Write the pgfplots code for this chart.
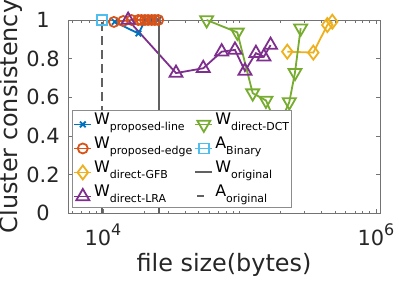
\documentclass[border=0pt]{standalone}
\usepackage{fontspec}
\setmainfont{DejaVu Sans}
\usepackage{pgfplots}
\pgfplotsset{compat=1.18}
\definecolor{mblue}{rgb}{0,0.447,0.741}
\definecolor{morange}{rgb}{0.85,0.325,0.098}
\definecolor{myellow}{rgb}{0.929,0.694,0.125}
\definecolor{mpurple}{rgb}{0.494,0.184,0.556}
\definecolor{mgreen}{rgb}{0.466,0.674,0.188}
\definecolor{mcyan}{rgb}{0.301,0.745,0.933}
\pgfplotsset{shortdash legend/.style={legend image code/.code={\draw[##1,solid] (0.06cm,0cm) -- (0.3cm,0cm);}}}
\newcommand{\lgt}[2]{{\fontsize{16}{16}\selectfont #1}\raisebox{-5.7bp}{\fontsize{11}{12}\selectfont #2}}
\newcommand{\tpow}[1]{10\raisebox{10bp}{\fontsize{16}{16}\selectfont #1}}
\begin{document}
\begin{tikzpicture}
\begin{axis}[
  xmode=log, scale only axis, width=312bp, height=193bp,
  xmin=5550, xmax=1.07e6, ymin=0, ymax=1,
  axis line style={black!55, line width=0.6bp},
  tick style={black!55, line width=0.6bp},
  major tick length=4bp, minor tick length=2.5bp,
  tick align=inside,
  xtick={1e4,1e6}, xticklabels={\tpow{4},\tpow{6}},
  minor xtick={6000,7000,8000,9000,20000,30000,40000,50000,60000,70000,80000,90000,1e5,2e5,3e5,4e5,5e5,6e5,7e5,8e5,9e5},
  ytick={0,0.2,0.4,0.6,0.8,1}, yticklabels={0,0.2,0.4,0.6,0.8,1},
  xticklabel style={font=\fontsize{21}{21}\selectfont, text=black!85, anchor=base, yshift=-32bp},
  yticklabel style={font=\fontsize{21}{21}\selectfont, text=black!85, anchor=center, xshift=-25bp},
  xlabel={file size(bytes)}, ylabel={Cluster consistency},
  x label style={font=\fontsize{24}{24}\selectfont, text=black!85, at={(axis description cs:0.5,-0.304)}, anchor=base},
  y label style={font=\fontsize{24}{24}\selectfont, text=black!85, at={(axis description cs:-0.183,0.5)}, anchor=center},
  legend columns=4, transpose legend,
  legend cell align=left,
  legend style={at={(axis description cs:0.0119,0.535)}, anchor=north west,
    draw=black!45, fill=white, inner xsep=1.5bp, inner ysep=1bp,
    row sep=1bp, column sep=1bp,
    nodes={inner xsep=1bp, inner ysep=1bp, text height=12.5bp, text depth=8.5bp, anchor=base west}},
  every axis plot/.append style={line width=1.8bp},
]
% W proposed-line
\addplot[mblue, mark=x, mark size=4bp] coordinates {
 (12200,0.99) (18200,0.93) (20500,1.0) (23000,1.0) (25400,1.0)};
\addlegendentry{\lgt{W}{proposed-line}}
% W proposed-edge
\addplot[morange, mark=o, mark size=5bp] coordinates {
 (12040,0.99) (14090,0.995) (16220,1.0) (18150,1.0) (19150,1.0) (20300,1.0) (21460,1.0) (22760,1.0) (24020,1.0) (25420,1.0)};
\addlegendentry{\lgt{W}{proposed-edge}}
% W direct-GFB
\addplot[myellow, mark=diamond, mark size=7bp] coordinates {
 (224000,0.836) (347500,0.831) (440000,0.974) (478600,0.991)};
\addlegendentry{\lgt{W}{direct-GFB}}
% W direct-LRA
\addplot[mpurple, mark=triangle, mark size=7.5bp] coordinates {
 (15300,1.0) (34300,0.725) (54300,0.75) (74100,0.836) (92700,0.845) (109700,0.736) (132000,0.828) (151000,0.81) (169000,0.87)};
\addlegendentry{\lgt{W}{direct-LRA}}
% W direct-DCT
\addplot[mgreen, mark=triangle, mark size=7.5bp, mark options={rotate=180}] coordinates {
 (57500,1.0) (96400,0.936) (125000,0.621) (156400,0.583) (191000,0.44) (231800,0.575) (255000,0.727) (280700,0.957)};
\addlegendentry{\lgt{W}{direct-DCT}}
% A Binary
\addplot[mcyan, mark=square, mark size=5bp] coordinates {(9800,1.0)};
\addlegendentry{\lgt{A}{Binary}}
% W original
\addplot[black!62, line width=2bp] coordinates {(25800,0) (25800,1)};
\addlegendentry{\lgt{W}{original}}
% A original
\addplot[black!62, line width=2bp, dash pattern=on 9bp off 5bp, shortdash legend] coordinates {(9800,0) (9800,1)};
\addlegendentry{\lgt{A}{original}}
\end{axis}
\pgfresetboundingbox
\path[use as bounding box] (-68bp,-69bp) rectangle (331bp,213bp);
\end{tikzpicture}
\end{document}
